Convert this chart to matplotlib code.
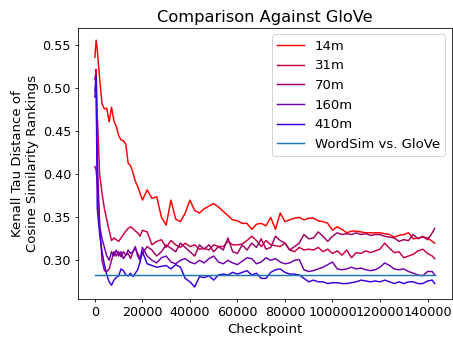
import matplotlib
matplotlib.use("Agg")
import matplotlib.pyplot as plt

steps = ([0, 500] + list(range(1000, 21000, 1000))
         + list(range(22000, 144000, 2000)) + [143000])

v14m = [0.536, 0.556, 0.545, 0.511, 0.482, 0.476, 0.477, 0.461, 0.478, 0.462, 0.456,
        0.445, 0.440, 0.439, 0.435, 0.413, 0.410, 0.402, 0.392, 0.386, 0.378, 0.370,
        0.382, 0.372, 0.374, 0.350, 0.341, 0.370, 0.348, 0.345, 0.355, 0.370,
        0.358, 0.355, 0.360, 0.363, 0.366, 0.362, 0.357, 0.352, 0.347, 0.346,
        0.343, 0.343, 0.336, 0.342, 0.343, 0.340, 0.350, 0.336, 0.355, 0.345,
        0.347, 0.349, 0.350, 0.347, 0.349, 0.349, 0.346, 0.345, 0.343, 0.335,
        0.339, 0.336, 0.332, 0.334, 0.334, 0.333, 0.332, 0.332, 0.332, 0.332,
        0.331, 0.330, 0.327, 0.329, 0.330, 0.332, 0.325, 0.326, 0.327, 0.326,
        0.322, 0.320]

v31m = [0.510, 0.522, 0.470, 0.400, 0.378, 0.360, 0.347, 0.335, 0.323, 0.326, 0.324,
        0.322, 0.326, 0.330, 0.334, 0.337, 0.339, 0.337, 0.334, 0.332, 0.328, 0.335,
        0.333, 0.318, 0.322, 0.324, 0.315, 0.323, 0.318, 0.315, 0.320, 0.316,
        0.318, 0.313, 0.314, 0.312, 0.318, 0.316, 0.316, 0.322, 0.318, 0.318,
        0.319, 0.323, 0.328, 0.323, 0.316, 0.323, 0.318, 0.317, 0.316, 0.320,
        0.312, 0.310, 0.315, 0.312, 0.313, 0.312, 0.315, 0.310, 0.313, 0.308,
        0.311, 0.306, 0.312, 0.303, 0.309, 0.308, 0.311, 0.309, 0.311, 0.313,
        0.320, 0.314, 0.309, 0.310, 0.303, 0.305, 0.307, 0.311, 0.313, 0.308,
        0.305, 0.302]

v70m = [0.409, 0.405, 0.390, 0.340, 0.300, 0.288, 0.287, 0.290, 0.300, 0.310, 0.305,
        0.310, 0.304, 0.310, 0.306, 0.308, 0.302, 0.310, 0.314, 0.308, 0.303, 0.308,
        0.316, 0.312, 0.305, 0.310, 0.318, 0.314, 0.310, 0.320, 0.315, 0.310,
        0.305, 0.318, 0.313, 0.318, 0.310, 0.316, 0.312, 0.326, 0.310, 0.308,
        0.318, 0.312, 0.320, 0.315, 0.325, 0.313, 0.315, 0.328, 0.323, 0.320,
        0.312, 0.316, 0.320, 0.330, 0.325, 0.326, 0.333, 0.328, 0.322, 0.328,
        0.332, 0.330, 0.331, 0.330, 0.332, 0.330, 0.331, 0.329, 0.330, 0.330,
        0.328, 0.327, 0.326, 0.322, 0.324, 0.323, 0.330, 0.325, 0.328, 0.324,
        0.332, 0.337]

v160m = [0.490, 0.505, 0.420, 0.340, 0.325, 0.315, 0.305, 0.300, 0.310, 0.305, 0.312,
         0.305, 0.310, 0.302, 0.306, 0.312, 0.308, 0.310, 0.316, 0.305, 0.300, 0.315,
         0.305, 0.300, 0.297, 0.303, 0.305, 0.298, 0.296, 0.300, 0.302, 0.298,
         0.296, 0.300, 0.297, 0.302, 0.305, 0.298, 0.296, 0.300, 0.297, 0.295,
         0.299, 0.303, 0.302, 0.296, 0.298, 0.303, 0.300, 0.302, 0.298, 0.296,
         0.297, 0.300, 0.301, 0.289, 0.287, 0.288, 0.290, 0.292, 0.295, 0.298,
         0.290, 0.289, 0.290, 0.292, 0.290, 0.291, 0.289, 0.288, 0.289, 0.292,
         0.297, 0.294, 0.290, 0.289, 0.290, 0.287, 0.285, 0.283, 0.282, 0.287,
         0.287, 0.283]

v410m = [0.497, 0.514, 0.360, 0.330, 0.310, 0.295, 0.283, 0.275, 0.271, 0.277, 0.280,
         0.282, 0.290, 0.288, 0.283, 0.282, 0.285, 0.281, 0.285, 0.289, 0.298, 0.310,
         0.296, 0.294, 0.292, 0.293, 0.294, 0.290, 0.295, 0.292, 0.279, 0.275,
         0.269, 0.281, 0.280, 0.282, 0.277, 0.283, 0.284, 0.283, 0.286, 0.284,
         0.286, 0.288, 0.283, 0.285, 0.279, 0.279, 0.286, 0.289, 0.290, 0.286,
         0.284, 0.284, 0.283, 0.279, 0.275, 0.277, 0.275, 0.275, 0.273, 0.274,
         0.274, 0.273, 0.273, 0.274, 0.275, 0.277, 0.276, 0.275, 0.276, 0.275,
         0.277, 0.275, 0.273, 0.275, 0.273, 0.275, 0.275, 0.273, 0.273, 0.276,
         0.277, 0.273]

wordsim_glove = 0.283

labels = ["14m", "31m", "70m", "160m", "410m"]
series = [v14m, v31m, v70m, v160m, v410m]
colors = ["#ff0000", "#d0003c", "#a00068", "#7000b0", "#3c00e0"]

dpi = 453 / 6.4
fig, ax = plt.subplots(figsize=(6.4, 339 / dpi), dpi=dpi)
for lab, vals, c in zip(labels, series, colors):
    ax.plot(steps, vals, color=c, label=lab, linewidth=1.5)
ax.plot([steps[0], steps[-1]], [wordsim_glove, wordsim_glove], color="#1f77b4",
        label="WordSim vs. GloVe", linewidth=1.5)

ax.set_title("Comparison Against GloVe", fontsize=16.5)
ax.set_xlabel("Checkpoint", fontsize=13.5)
ax.set_ylabel("Kenall Tau Distance of\nCosine Similarity Rankings", fontsize=13.5)
ax.tick_params(labelsize=13)
ax.legend(loc="upper right", fontsize=13.5)
fig.subplots_adjust(left=0.172, right=0.997, top=0.918, bottom=0.117)
fig.savefig("out.png", dpi=dpi)
